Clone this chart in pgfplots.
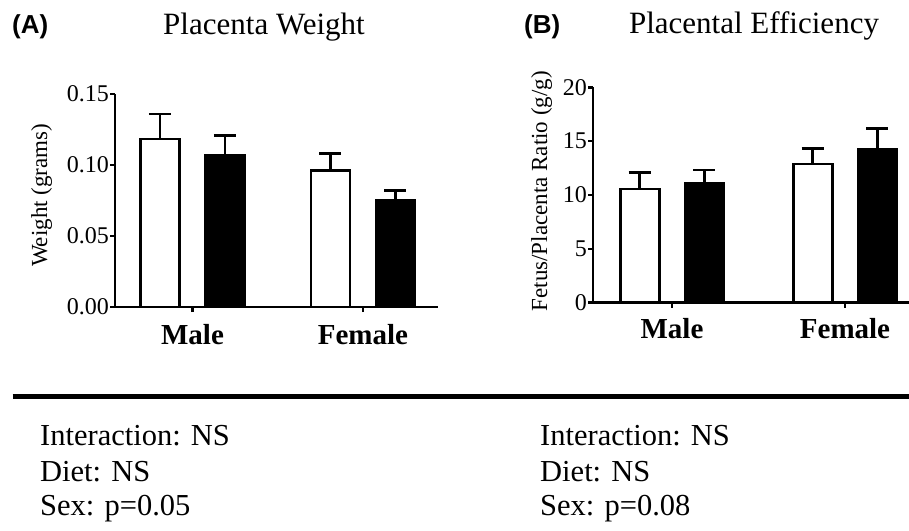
\documentclass[border=0pt]{standalone}
\usepackage{fontspec}
\setmainfont{Liberation Serif}
\newfontfamily\sansfam{Liberation Sans}
\usepackage{pgfplots}
\usepackage{pgfplotstable}
\pgfplotsset{compat=1.18}

\pgfplotstableread{
x y e
0 0.1183 0.0176
1 0.0963 0.0119
}\Awhite
\pgfplotstableread{
x y e
0 0.1070 0.0136
1 0.0754 0.0065
}\Ablack
\pgfplotstableread{
x y e
0 10.56 1.55
1 12.86 1.45
}\Bwhite
\pgfplotstableread{
x y e
0 11.09 1.24
1 14.21 1.99
}\Bblack

\pgfplotsset{
 panel/.style={
  scale only axis,
  axis lines=left,
  axis line style={-, line width=2.6pt},
  tick align=outside,
  major tick length=5pt,
  tick style={line width=2.6pt, black},
  ymin=0,
  bar width=39pt,
  xtick={0,1}, xticklabels={Male,Female},
  xticklabel style={font=\fontsize{29}{33}\selectfont\bfseries, anchor=north, inner sep=0pt, yshift=-12pt},
  yticklabel style={font=\fontsize{24}{28}\selectfont, anchor=east, inner sep=0pt, xshift=-1pt},
  /pgf/number format/assume math mode=true,
  ylabel style={font=\fontsize{23}{27}\selectfont, anchor=center},
  error bars/y dir=plus, error bars/y explicit, error bars/error mark=-,
  error bars/error mark options={rotate=90, line width=2.6pt, mark size=11pt, black},
  error bars/error bar style={line width=2.6pt, black},
 },
 wbar/.style={draw=black, fill=white, line width=2.6pt},
 bbar/.style={draw=black, fill=black, line width=2.6pt},
}

\begin{document}
\begin{tikzpicture}
\useasboundingbox (0pt,0pt) rectangle (909pt,530pt);

\begin{axis}[panel, ybar=26pt, at={(115pt,223pt)}, anchor=south west,
  width=323pt, height=213pt, xmin=-0.4545, xmax=1.44, ymax=0.15,
  ytick={0,0.05,0.10,0.15},
  yticklabel style={/pgf/number format/.cd, fixed, fixed zerofill, precision=2},
  ylabel={Weight (grams)},
  ylabel style={at={(axis description cs:-0.227,0.524)}}]
\addplot[wbar] table[x=x, y=y, y error=e] {\Awhite};
\addplot[bbar] table[x=x, y=y, y error=e] {\Ablack};
\end{axis}

\begin{axis}[panel, ybar=25.6pt, at={(593pt,227.3pt)}, anchor=south west,
  width=316pt, height=215.4pt, xmin=-0.4566, xmax=1.37, ymax=20,
  ytick={0,5,10,15,20},
  xticklabel style={yshift=2pt},
  ylabel={Fetus/Placenta Ratio (g/g)},
  ylabel style={at={(axis description cs:-0.1623,0.5177)}}]
\addplot[wbar] table[x=x, y=y, y error=e] {\Bwhite};
\addplot[bbar] table[x=x, y=y, y error=e] {\Bblack};
\end{axis}

\node[anchor=base, inner sep=0pt, font=\fontsize{31}{35}\selectfont] at (264pt,495.7pt) {Placenta Weight};
\node[anchor=base, inner sep=0pt, font=\fontsize{31}{35}\selectfont] at (754pt,496.7pt) {Placental Efficiency};
\node[anchor=base west, inner sep=0pt, font=\sansfam\bfseries\fontsize{26}{30}\selectfont] at (12pt,496.7pt) {(A)};
\node[anchor=base west, inner sep=0pt, font=\sansfam\bfseries\fontsize{26}{30}\selectfont] at (524pt,496.7pt) {(B)};

\draw[line width=5pt] (12.7pt,134pt) -- (909pt,134pt);

\begin{scope}[every node/.style={anchor=base west, inner sep=0pt, font=\fontsize{30.5}{34}\selectfont}]
\node at (40pt,85pt) {Interaction: NS};
\node at (40pt,48.3pt) {Diet: NS};
\node at (40pt,15pt) {Sex: p=0.05};
\node at (540pt,85pt) {Interaction: NS};
\node at (540pt,48.3pt) {Diet: NS};
\node at (540pt,15pt) {Sex: p=0.08};
\end{scope}
\end{tikzpicture}
\end{document}
